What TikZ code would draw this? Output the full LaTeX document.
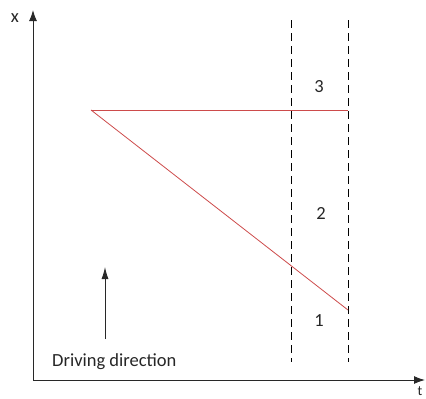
\documentclass[tikz,border=0pt]{standalone}
\usepackage{fontspec}
\setmainfont{Carlito}
\usetikzlibrary{arrows.meta}
\definecolor{lred}{RGB}{205,75,75}
\definecolor{axgray}{RGB}{40,40,40}
\begin{document}
\begin{tikzpicture}[x=1pt,y=-1pt,
  axis/.style={draw=axgray,line width=1pt,-{Latex[length=11pt,width=8pt]}},
  redline/.style={draw=lred,line width=0.8pt},
  dashline/.style={draw=black,line width=0.6pt,dash pattern=on 8pt off 5pt},
  lbl/.style={font=\fontsize{18.5}{21}\selectfont,text=black!85,inner sep=0pt}]
\useasboundingbox (0,0) rectangle (426,399);
\coordinate (O) at (33,380);
\coordinate (Ytip) at (33,10);
\coordinate (Xtip) at (425,380);
\draw[axis] (O) -- (Ytip);
\draw[axis] (O) -- (Xtip);
\node[lbl] (xl) at (15,18) {x};
\node[lbl,font=\fontsize{14}{16}\selectfont] (tl) at (420,391) {t};
\coordinate (d1t) at (291,20);
\coordinate (d1b) at (291,362);
\coordinate (d2t) at (348,20);
\coordinate (d2b) at (348,362);
\draw[dashline] (d1t) -- (d1b);
\draw[dashline] (d2t) -- (d2b);
\coordinate (A) at (91,110);
\coordinate (B) at (348,110);
\coordinate (C) at (348,310);
\draw[redline] (A) -- (B);
\draw[redline] (A) -- (C);
\node[lbl] (n3) at (319,87) {3};
\node[lbl] (n2) at (321,213) {2};
\node[lbl] (n1) at (319,321) {1};
\coordinate (dab) at (105,339);
\coordinate (dat) at (105,267);
\draw[draw=axgray,line width=0.9pt,-{Latex[length=12pt,width=7pt]}] (dab) -- (dat);
\node[lbl,anchor=west] (dd) at (52,362) {Driving direction};
\end{tikzpicture}
\end{document}
